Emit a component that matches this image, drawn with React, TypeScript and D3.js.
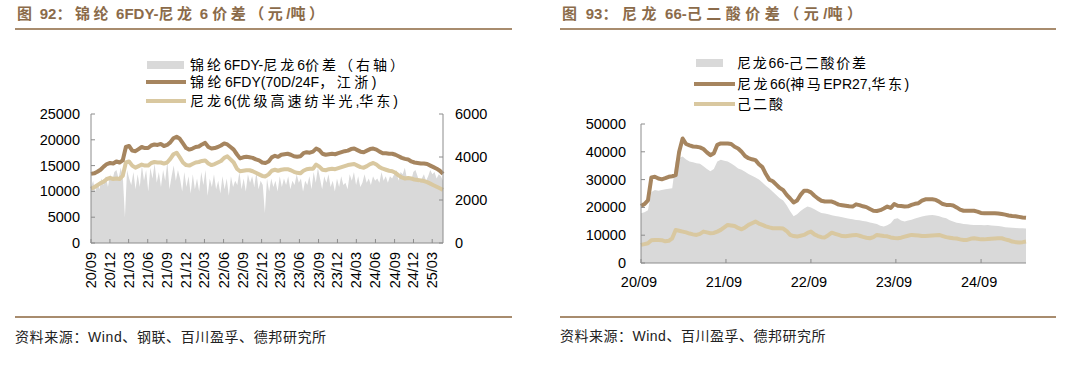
import * as d3 from "d3";

// ---------- 图92: 锦纶6FDY / 尼龙6 (semi-monthly, 2020-09 .. 2025-04) ----------
const fdyPrice = [
	13400, 13500, 13800, 14200, 14800, 15300, 15500, 15400,
	15800, 15600, 16000, 18600, 18800, 17900, 17800, 18200, 18600, 18400, 18400, 18900,
	19100, 19000, 19200, 18800, 19000, 19500, 20300, 20600, 20200, 19300, 18400, 18100,
	18300, 18600, 18700, 19100, 19400, 18600, 18300, 18400, 18600, 18900, 19300, 19100,
	18600, 18100, 17200, 16400, 16600, 16700, 16600, 16500, 16200, 16000, 15600, 15500,
	15800, 16600, 16900, 16700, 17100, 17200, 17300, 17100, 16800, 16700, 16800, 17400,
	17600, 17500, 17700, 18300, 18000, 17300, 17100, 17200, 17300, 17200, 17400, 17600,
	17800, 17900, 18200, 18300, 18000, 17700, 17600, 17900, 18200, 18300, 18100, 17700,
	17400, 17400, 17300, 17300, 17100, 16800, 16500, 16300, 16200, 15800, 15600, 15500,
	15400, 15400, 15300, 15000, 14700, 14400, 14000, 13400,
];
const pa6Price = [
	10500, 10800, 11200, 11600, 11900, 12400, 12600, 12400,
	12500, 12400, 13000, 15600, 15800, 15000, 14600, 14900, 15200, 15000, 15000, 15500,
	15700, 15600, 15600, 15400, 15600, 16300, 17200, 17500, 16600, 15600, 15100, 15000,
	15300, 15600, 15700, 15900, 16000, 15400, 15100, 15300, 15600, 15900, 16500, 16800,
	16200, 15600, 14400, 13900, 14000, 14100, 14100, 13900, 13600, 13300, 13000, 12900,
	13300, 14000, 14200, 14000, 14200, 14300, 14300, 14100, 13800, 13600, 13500, 14000,
	14300, 14400, 14400, 15200, 14800, 14200, 14100, 14300, 14400, 14300, 14500, 14700,
	14900, 15100, 15200, 15300, 15000, 14700, 14600, 14900, 15300, 15500, 15200, 14700,
	14400, 14200, 14000, 13900, 13600, 13100, 12700, 12500, 12600, 12500, 12300, 12200,
	12100, 12000, 11800, 11500, 11200, 10900, 10600, 10300,
];
// spread, right axis (about three readings a month)
const fdySpread = [
	2600, 2900, 2400, 2800, 2500, 3000, 2700, 3100, 2600, 3200, 2900, 3300,
	3400, 3000, 3500, 3100, 1200, 3400, 3000, 2700, 3300, 2500, 3200, 2600,
	3600, 2900, 3400, 2400, 3500, 3000, 3700, 2800, 3300, 2600, 3400, 2900,
	3800, 2500, 3100, 3600, 2900, 3400, 3000, 2400, 3300, 2600, 3100, 2300,
	3200, 2500, 3000, 2400, 3300, 2700, 3400, 2200, 3000, 2600, 3200, 2500,
	2900, 2300, 3100, 2500, 3000, 2200, 3100, 2600, 2900, 2700, 3300, 2500,
	3000, 2400, 3200, 2800, 3100, 2600, 3300, 2500, 2900, 2700, 1400, 3000,
	2400, 3000, 2600, 2900, 2400, 3100, 2600, 3000, 2700, 3100, 2500, 2900,
	2700, 3200, 2800, 3000, 2400, 2900, 2700, 3100, 2500, 3300, 2800, 3500,
	3000, 2500, 3100, 2800, 3200, 2600, 2900, 2400, 3000, 2600, 3100, 2700,
	2800, 2500, 3200, 2900, 3300, 2700, 3100, 2600, 2800, 3200, 2800, 3000,
	2700, 3100, 2900, 3000, 2800, 3300, 2900, 3100, 2800, 3100, 3000, 3200,
	3400, 2900, 3300, 3200, 3500, 3000, 3100, 2900, 3300, 3400, 3100, 2800,
	3000, 3200, 2900, 3100, 3400, 3200, 3300, 3000, 3200, 3100, 2900,
];
const leftXLabels = [
	"20/09", "20/12", "21/03", "21/06", "21/09", "21/12", "22/03", "22/06", "22/09",
	"22/12", "23/03", "23/06", "23/09", "23/12", "24/03", "24/06", "24/09", "24/12", "25/03",
];
const leftTicksL = [0, 5000, 10000, 15000, 20000, 25000];
const leftTicksR = [0, 2000, 4000, 6000];

// ---------- 图93: 尼龙66 / 己二酸 (semi-monthly, 2020-09 .. 2025-04) ----------
const pa66Price = [
	20500, 21200, 22500, 30800, 31000, 30400, 30100, 30500,
	31000, 31200, 31600, 40000, 44800, 42800, 42300, 41900, 41800, 41600, 41000, 39800,
	38800, 39500, 42500, 43000, 43000, 43000, 42800, 41800, 41200, 40000, 38500, 37700,
	37300, 37000, 35500, 34500, 32000, 30000, 29400, 28200, 27000, 26200, 24500, 23200,
	21800, 22500, 24500, 26000, 26000, 25400, 24200, 23200, 22400, 22100, 22100, 22100,
	21600, 21000, 20800, 20600, 20400, 20300, 21100, 20800, 20400, 20100, 19400, 18800,
	18700, 19000, 19600, 20300, 19800, 21200, 20600, 20500, 20300, 20400, 20900, 21300,
	21500, 22400, 22900, 22900, 22900, 22700, 22000, 21200, 20900, 20900, 20700, 20000,
	19200, 18800, 18800, 18800, 18800, 18500, 18000, 17900, 17900, 17900, 17900, 17800,
	17600, 17400, 17100, 16900, 16800, 16600, 16400, 16300,
];
const adipicPrice = [
	6500, 6800, 7100, 8200, 8300, 8300, 8200, 7800,
	8000, 8900, 11900, 11600, 11300, 11000, 10600, 10300, 10100, 10500, 11300, 11000,
	10700, 10800, 11300, 11900, 12800, 13700, 13500, 13300, 12600, 12100, 12800, 13700,
	14300, 14900, 14200, 13700, 13200, 12800, 12500, 12500, 12500, 12400, 11500, 10100,
	9700, 9500, 9800, 10100, 10800, 11300, 10300, 9700, 9300, 9200, 10000, 10900,
	10500, 10100, 9700, 9600, 9800, 10000, 10100, 9800, 9400, 9100, 8900, 9300,
	10100, 9900, 9700, 9600, 9200, 9000, 8900, 9100, 9500, 9800, 10100, 10000,
	9900, 9700, 9700, 9800, 9900, 10000, 10100, 9700, 9300, 9100, 8900, 8800,
	8500, 8300, 8300, 8700, 8900, 8700, 8500, 8500, 8600, 8700, 8800, 8900,
	8900, 8500, 8200, 7700, 7500, 7400, 7500, 7700,
];
const pa66Spread = [
	17900, 18300, 19000, 25500, 26300, 26000, 26300, 26500,
	26700, 26900, 36500, 37800, 38300, 37200, 36500, 36200, 35900, 35700, 34800, 33800,
	33000, 33800, 36500, 37100, 36800, 36500, 35800, 35000, 34000, 33500, 32800, 32000,
	31400, 30800, 30000, 29000, 27800, 26800, 25600, 24500, 23300, 22500, 20800, 18600,
	16800, 17500, 18700, 19600, 20300, 20000, 19300, 18600, 18000, 17800, 17500, 17200,
	16900, 16700, 16500, 16200, 15900, 15700, 15500, 15400, 15100, 14900, 14600, 14300,
	14000, 13400, 13100, 13600, 14300, 15800, 16100, 15300, 14900, 15300, 15600, 16000,
	16400, 16700, 17000, 17200, 17300, 17100, 16800, 16400, 16100, 15400, 14900, 14500,
	14300, 14000, 13900, 13800, 13700, 13700, 13700, 13600, 13700, 13500, 13400, 13300,
	13100, 12900, 12800, 12700, 12600, 12500, 12500, 12400,
];
const rightXLabels = ["20/09", "21/09", "22/09", "23/09", "24/09"];
const rightTicks = [0, 10000, 20000, 30000, 40000, 50000];

const FONT = "'Liberation Sans', Arial, 'Noto Sans CJK SC', sans-serif";
const DARK = "#a6855f";
const LIGHT = "#d9c8a0";
const GRAY = "#d9d9d9";
const AXIS = "#8c8c8c";
const BRAND = "#8b6b4a";
const RULE = "#a88c6e";
const parseYM = d3.timeParse("%y/%m");

function indexScale(n: number, x0: number, x1: number) {
	return d3.scaleLinear().domain([0, n - 1]).range([x0, x1]);
}

// spread out only the Chinese characters, leave latin text tight
function CjkSpaced({ text, spacing }: { text: string; spacing: number }) {
	const runs = text.match(/[\u3000-\u9fff\uff00-\uffef]+|[^\u3000-\u9fff\uff00-\uffef]+/g) ?? [];
	return (
		<>
			{runs.map((r, i) => (
				<tspan key={i} letterSpacing={/[\u3000-\u9fff\uff00-\uffef]/.test(r) ? spacing : 0}>
					{r}
				</tspan>
			))}
		</>
	);
}

function LeftChart() {
	const x = d3
		.scaleTime()
		.domain([new Date(2020, 8, 1), new Date(2025, 3, 22)])
		.range([91, 443]);
	const [x0, x1] = x.range();
	const yL = d3.scaleLinear().domain([0, 25000]).range([243, 114]);
	const yR = d3.scaleLinear().domain([0, 6000]).range([243, 114]);

	const xs = indexScale(fdySpread.length, x0, x1);
	const area = d3
		.area<number>()
		.x((_, i) => xs(i))
		.y0(yR(0))
		.y1((d) => yR(d));
	const xl = indexScale(fdyPrice.length, x0, x1);
	const line = d3
		.line<number>()
		.x((_, i) => xl(i))
		.y((d) => yL(d));

	return (
		<g fontFamily={FONT}>
			<text x={17} y={19} fontSize={15} fontWeight="bold" fill={BRAND}>
				<CjkSpaced text="图 92：锦纶 6FDY-尼龙 6 价差（元/吨）" spacing={3.5} />
			</text>
			<line x1={15} x2={512} y1={29} y2={29} stroke={RULE} strokeWidth={2} />

			{/* legend */}
			<g fontSize={14}>
				<rect x={147} y={61} width={37} height={8} fill={GRAY} />
				<text x={190} y={70}>
					<CjkSpaced text="锦纶6FDY-尼龙6价差（右轴）" spacing={3} />
				</text>
				<line x1={146} x2={186} y1={82} y2={82} stroke={DARK} strokeWidth={4} />
				<text x={190} y={87} letterSpacing={1.2}>
					<CjkSpaced text="锦纶6FDY(70D/24F，江浙)" spacing={3.5} />
				</text>
				<line x1={146} x2={186} y1={101} y2={101} stroke={LIGHT} strokeWidth={4} />
				<text x={190} y={106}>
					<CjkSpaced text="尼龙6(优级高速纺半光,华东)" spacing={3} />
				</text>
			</g>

			<path d={area(fdySpread) ?? ""} fill={GRAY} />
			<path d={line(pa6Price) ?? ""} fill="none" stroke={LIGHT} strokeWidth={4} strokeLinejoin="round" />
			<path d={line(fdyPrice) ?? ""} fill="none" stroke={DARK} strokeWidth={4} strokeLinejoin="round" />

			{/* axes */}
			<line x1={x0} x2={x0} y1={yL(25000)} y2={yL(0)} stroke={AXIS} />
			<line x1={x1} x2={x1} y1={yR(6000)} y2={yR(0)} stroke={AXIS} />
			<line x1={x0} x2={x1} y1={yL(0)} y2={yL(0)} stroke={AXIS} />
			{leftTicksL.map((t) => (
				<g key={t}>
					<line x1={x0} x2={x0 + 4} y1={yL(t)} y2={yL(t)} stroke={AXIS} />
					<text x={80} y={yL(t) + 5} fontSize={14.5} textAnchor="end">{t}</text>
				</g>
			))}
			{leftTicksR.map((t) => (
				<g key={t}>
					<line x1={x1 - 4} x2={x1} y1={yR(t)} y2={yR(t)} stroke={AXIS} />
					<text x={455} y={yR(t) + 5} fontSize={14.5}>{t}</text>
				</g>
			))}
			{leftXLabels.map((lab) => {
				const px = x(parseYM(lab) as Date);
				return (
					<g key={lab}>
						<line x1={px} x2={px} y1={yL(0)} y2={yL(0) - 4} stroke={AXIS} />
						<text
							transform={`translate(${px + 5},252) rotate(-90)`}
							fontSize={14.5}
							textAnchor="end"
						>
							{lab}
						</text>
					</g>
				);
			})}

			<line x1={15} x2={512} y1={317} y2={317} stroke={RULE} strokeWidth={2} />
			<text x={15} y={342} fontSize={14} fill="#222" letterSpacing={0.6}>
				资料来源：Wind、钢联、百川盈孚、德邦研究所
			</text>
		</g>
	);
}

function RightChart() {
	const x = d3
		.scaleTime()
		.domain([new Date(2020, 8, 1), new Date(2025, 2, 13)])
		.range([641, 1026]);
	const [x0, x1] = x.range();
	const y = d3.scaleLinear().domain([0, 50000]).range([263, 124]);

	const xi = indexScale(pa66Price.length, x0, x1);
	const area = d3
		.area<number>()
		.x((_, i) => xi(i))
		.y0(y(0))
		.y1((d) => y(d));
	const line = d3
		.line<number>()
		.x((_, i) => xi(i))
		.y((d) => y(d));

	return (
		<g fontFamily={FONT}>
			<text x={562} y={19} fontSize={15} fontWeight="bold" fill={BRAND}>
				<CjkSpaced text="图 93：尼龙 66-己二酸价差（元/吨）" spacing={4.5} />
			</text>
			<line x1={560} x2={1056} y1={29} y2={29} stroke={RULE} strokeWidth={2} />

			<g fontSize={14}>
				<rect x={696} y={59} width={27} height={8} fill={GRAY} />
				<text x={737} y={68}>
					<CjkSpaced text="尼龙66-己二酸价差" spacing={1.8} />
				</text>
				<line x1={694} x2={735} y1={84} y2={84} stroke={DARK} strokeWidth={4} />
				<text x={737} y={89}>
					<CjkSpaced text="尼龙66(神马EPR27,华东)" spacing={2.5} />
				</text>
				<line x1={694} x2={735} y1={104} y2={104} stroke={LIGHT} strokeWidth={4} />
				<text x={737} y={109}>
					<CjkSpaced text="己二酸" spacing={2} />
				</text>
			</g>

			<path d={area(pa66Spread) ?? ""} fill={GRAY} />
			<path d={line(adipicPrice) ?? ""} fill="none" stroke={LIGHT} strokeWidth={4} strokeLinejoin="round" />
			<path d={line(pa66Price) ?? ""} fill="none" stroke={DARK} strokeWidth={4} strokeLinejoin="round" />

			<line x1={x0} x2={x0} y1={y(50000)} y2={y(0)} stroke={AXIS} />
			<line x1={x0} x2={x1} y1={y(0)} y2={y(0)} stroke={AXIS} />
			{rightTicks.map((t) => (
				<g key={t}>
					<line x1={x0} x2={x0 + 4} y1={y(t)} y2={y(t)} stroke={AXIS} />
					<text x={626} y={y(t) + 5} fontSize={14.5} textAnchor="end">{t}</text>
				</g>
			))}
			{rightXLabels.map((lab) => {
				const px = x(parseYM(lab) as Date);
				return (
					<g key={lab}>
						<line x1={px} x2={px} y1={y(0)} y2={y(0) - 4} stroke={AXIS} />
						<text x={px - 2} y={287} fontSize={14.5} textAnchor="middle">{lab}</text>
					</g>
				);
			})}

			<line x1={560} x2={1056} y1={317} y2={317} stroke={RULE} strokeWidth={2} />
			<text x={560} y={341} fontSize={14} fill="#222" letterSpacing={0.5}>
				资料来源：Wind、百川盈孚、德邦研究所
			</text>
		</g>
	);
}

export default function App() {
	return (
		<svg
			width={1080}
			height={365}
			style={{ position: "absolute", left: 0, top: 0, background: "#fff" }}
		>
			<LeftChart />
			<RightChart />
		</svg>
	);
}
